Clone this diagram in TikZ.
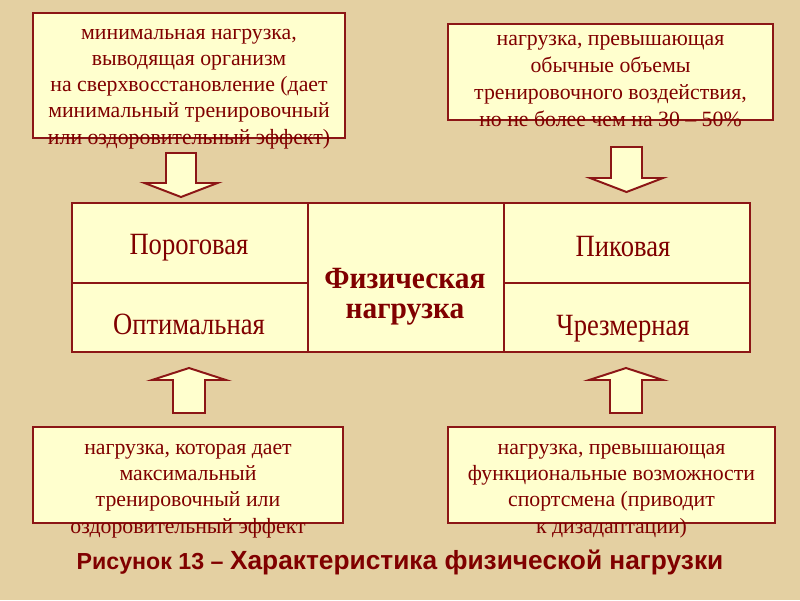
\documentclass[tikz,border=0pt]{standalone}
\usepackage{fontspec}
\setmainfont{Liberation Serif}
\newfontfamily\capfont{Liberation Sans}
\newfontfamily\narrowfont[FakeStretch=0.86]{Liberation Serif}
\newfontfamily\headfont[FakeStretch=0.95]{Liberation Serif}
\usepackage{tikz}
\usetikzlibrary{positioning}
\usepackage{xcolor}
\definecolor{paper}{RGB}{228, 208, 162}
\definecolor{cream}{RGB}{255, 255, 206}
\definecolor{wine}{RGB}{128, 0, 0}
\definecolor{wineline}{RGB}{140, 22, 22}

\tikzset{
  notebox/.style={draw=wineline, fill=cream, line width=1.4pt, inner sep=0pt},
  notetext/.style={text=wine, align=center, font=\fontsize{15.5}{18.6}\selectfont, inner sep=0pt},
  cell/.style={draw=wineline, fill=cream, line width=1.4pt, inner sep=0pt, outer sep=0pt, anchor=north west},
  celltext/.style={text=wine, font=\narrowfont\fontsize{22}{25}\selectfont, inner sep=0pt},
  blockarrow/.style={draw=wineline, fill=cream, line width=1.4pt, line join=miter},
}

\begin{document}
\begin{tikzpicture}[x=0.025cm, y=-0.025cm]
  \fill[paper] (0,0) rectangle (800,600);
  \useasboundingbox (0,0) rectangle (800,600);

  % boxes with the descriptions
  \node[notebox, minimum width=7.8cm, minimum height=3.125cm] (minbox) at (189,75.5) {};
  \node[notetext] (mintxt) at (189,89) {минимальная нагрузка,\\ выводящая организм\\
    на сверхвосстановление (дает\\ минимальный тренировочный\\ или оздоровительный эффект)};
  \node[notebox, minimum width=8.125cm, minimum height=2.4cm] (peakbox) at (610.5,72) {};
  \node[notetext, font=\fontsize{15.5}{19.2}\selectfont] (peaktxt) at (610.5,81) {нагрузка, превышающая\\ обычные объемы\\
    тренировочного воздействия,\\ но не более чем на 30 – 50\%};
  \node[notebox, minimum width=7.75cm, minimum height=2.4cm] (optbox) at (188,475) {};
  \node[notetext] (opttxt) at (188,491) {нагрузка, которая дает\\ максимальный\\
    тренировочный или\\ оздоровительный эффект};
  \node[notebox, minimum width=8.175cm, minimum height=2.4cm] (excbox) at (611.5,475) {};
  \node[notetext] (exctxt) at (611.5,491) {нагрузка, превышающая\\ функциональные возможности\\
    спортсмена (приводит\\ к дизадаптации)};

  % the table
  \node[cell, minimum width=5.9cm, minimum height=2cm] (thr) at (72,203) {};
  \node[cell, minimum width=5.9cm, minimum height=1.725cm] (opt) at (thr.south west) {};
  \node[cell, minimum width=4.9cm, minimum height=3.725cm] (phys) at (thr.north east) {};
  \node[cell, minimum width=6.15cm, minimum height=2cm] (peak) at (phys.north east) {};
  \node[cell, minimum width=6.15cm, minimum height=1.725cm] (exc) at (peak.south west) {};
  \node[celltext] (thrtxt) at (189,248) {Пороговая};
  \node[celltext] (opttxt2) at (189,324) {Оптимальная};
  \node[celltext] (peaktxt2) at (623,247) {Пиковая};
  \node[celltext] (exctxt2) at (623,329) {Чрезмерная};
  \node[celltext, align=center, font=\headfont\bfseries\fontsize{22}{21.5}\selectfont] (phystxt) at (405,297)
    {Физическая\\ нагрузка};

  % block arrows
  \draw[blockarrow, shift={(181,153)}] (-15,0) -- (15,0) -- (15,30) -- (36.5,30) -- (0,44)
    -- (-36.5,30) -- (-15,30) -- cycle;
  \draw[blockarrow, shift={(626.5,147)}] (-15.5,0) -- (15.5,0) -- (15.5,31) -- (36.5,31) -- (0,45)
    -- (-36.5,31) -- (-15.5,31) -- cycle;
  \draw[blockarrow, shift={(189,368)}] (0,0) -- (37,12) -- (16,12) -- (16,45) -- (-16,45)
    -- (-16,12) -- (-37,12) -- cycle;
  \draw[blockarrow, shift={(626,368)}] (0,0) -- (37,12) -- (16,12) -- (16,45) -- (-16,45)
    -- (-16,12) -- (-37,12) -- cycle;

  % caption
  \node[text=wine, font=\capfont\bfseries] (caption) at (400,562)
    {\fontsize{16.5}{18}\selectfont Рисунок 13 – \fontsize{18.7}{22}\selectfont Характеристика физической нагрузки};
\end{tikzpicture}
\end{document}
